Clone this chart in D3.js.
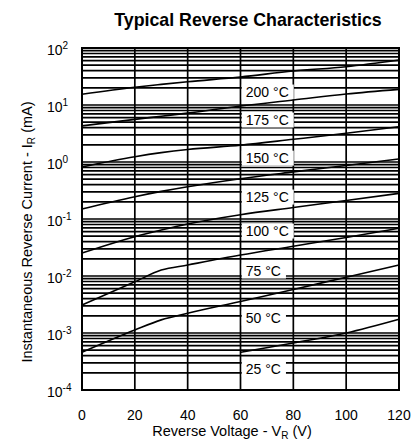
<!DOCTYPE html>
<html>
<head>
<meta charset="utf-8">
<script src="https://cdn.jsdelivr.net/npm/d3@7"></script>
<style>
  body { margin: 0; background: #fff; }
  text { font-family: "Liberation Sans", Arial, sans-serif; fill: #000; }
</style>
</head>
<body>
<svg id="chart" width="411" height="441"></svg>
<script>
// reverse voltage (V) at which the currents were read
var voltages = [0, 20, 30, 40, 60, 80, 100, 120];

// reverse current in mA, one list per junction temperature
var temps = ["200 °C", "175 °C", "150 °C", "125 °C", "100 °C", "75 °C", "50 °C", "25 °C"];
var i200 = [15.4, 20.5, 23.0, 25.6, 31.0, 39.5, 47.0, 61.6];
var i175 = [4.3, 5.6, 6.35, 7.2, 9.6, 12.2, 15.6, 18.8];
var i150 = [0.82, 1.24, 1.46, 1.66, 1.97, 2.5, 3.19, 4.16];
var i125 = [0.15, 0.246, 0.305, 0.369, 0.51, 0.67, 0.87, 1.13];
var i100 = [0.0253, 0.049, 0.064, 0.0817, 0.119, 0.159, 0.211, 0.282];
var i75 = [0.0031, 0.0079, 0.0127, 0.0156, 0.0233, 0.0333, 0.0475, 0.0687];
var i50 = [0.00046, 0.00113, 0.0017, 0.00222, 0.00357, 0.0058, 0.00953, 0.0156];
var i25 = [null, null, null, null, 0.000458, 0.00067, 0.001, 0.00174];
var series = [i200, i175, i150, i125, i100, i75, i50, i25];

// current (mA) at which each temperature label sits
var labelAt = [16.9, 5.46, 1.17, 0.243, 0.0616, 0.01225, 0.00183, 0.000233];

var xTicks = [0, 20, 40, 60, 80, 100, 120];
var yExps = [2, 1, 0, -1, -2, -3, -4];

var svg = d3.select("#chart");

var x = d3.scaleLinear().domain([0, 120]).range([82, 399]);
var y = d3.scaleLog().domain([1e-4, 1e2]).range([390, 48]);

// title
svg.append("text")
    .attr("x", 248).attr("y", 26)
    .attr("text-anchor", "middle")
    .style("font-weight", "bold").style("font-size", "17.8px")
    .text("Typical Reverse Characteristics");

// horizontal grid: every 1..9 of each decade
var gridVals = [];
for (var e = -4; e < 2; e++) {
    for (var m = 1; m < 10; m++) gridVals.push(m * Math.pow(10, e));
}
gridVals.push(100);

var grid = svg.append("g");
grid.selectAll("line.h").data(gridVals).enter().append("line")
    .attr("x1", x(0)).attr("x2", x(120))
    .attr("y1", function (d) { return y(d); })
    .attr("y2", function (d) { return y(d); })
    .attr("stroke", "#000").attr("stroke-width", 1.7);

grid.selectAll("line.v").data(xTicks.slice(1, -1)).enter().append("line")
    .attr("x1", function (d) { return x(d); })
    .attr("x2", function (d) { return x(d); })
    .attr("y1", y(1e2)).attr("y2", y(1e-4))
    .attr("stroke", "#000").attr("stroke-width", 1.7);

svg.append("rect")
    .attr("x", x(0)).attr("y", y(1e2))
    .attr("width", x(120) - x(0)).attr("height", y(1e-4) - y(1e2))
    .attr("fill", "none").attr("stroke", "#000").attr("stroke-width", 2);

// temperature labels on white boxes
var labelV = 62;
var labels = svg.append("g");
temps.forEach(function (t, i) {
    var g = labels.append("g");
    var txt = g.append("text")
        .attr("x", x(labelV)).attr("y", y(labelAt[i]))
        .attr("dy", "0.36em")
        .style("font-size", "14px")
        .text(t);
    var bb = txt.node().getBBox();
    g.insert("rect", "text")
        .attr("x", bb.x - 4).attr("y", bb.y + 0.5)
        .attr("width", bb.width + 9).attr("height", bb.height - 1)
        .attr("fill", "#fff");
});

// curves
var line = d3.line()
    .defined(function (d) { return d[1] != null; })
    .x(function (d) { return x(d[0]); })
    .y(function (d) { return y(d[1]); })
    .curve(d3.curveMonotoneX);

svg.append("g").selectAll("path").data(series).enter().append("path")
    .attr("d", function (s) { return line(voltages.map(function (v, i) { return [v, s[i]]; })); })
    .attr("fill", "none").attr("stroke", "#000").attr("stroke-width", 1.6);

// y tick labels 10^n
var yl = svg.append("g");
yExps.forEach(function (n) {
    var t = yl.append("text")
        .attr("x", 47).attr("y", y(Math.pow(10, n)) + 7)
        .style("font-size", "14px");
    t.append("tspan").text("10");
    t.append("tspan").attr("dy", -6).style("font-size", "10px").text(n < 0 ? "-" + (-n) : n);
});

// x tick labels
svg.append("g").selectAll("text").data(xTicks).enter().append("text")
    .attr("x", function (d) { return x(d); })
    .attr("y", 420)
    .attr("text-anchor", "middle")
    .style("font-size", "14px")
    .text(function (d) { return d; });

// axis titles
var xt = svg.append("text")
    .attr("x", 232).attr("y", 436)
    .attr("text-anchor", "middle")
    .style("font-size", "14.5px");
xt.append("tspan").text("Reverse Voltage - V");
xt.append("tspan").attr("dy", 3).style("font-size", "10px").text("R");
xt.append("tspan").attr("dy", -3).text(" (V)");

var yt = svg.append("text")
    .attr("transform", "translate(32,232) rotate(-90)")
    .attr("text-anchor", "middle")
    .style("font-size", "14.5px");
yt.append("tspan").text("Instantaneous Reverse Current - I");
yt.append("tspan").attr("dy", 3).style("font-size", "10px").text("R");
yt.append("tspan").attr("dy", -3).text(" (mA)");
</script>
</body>
</html>
